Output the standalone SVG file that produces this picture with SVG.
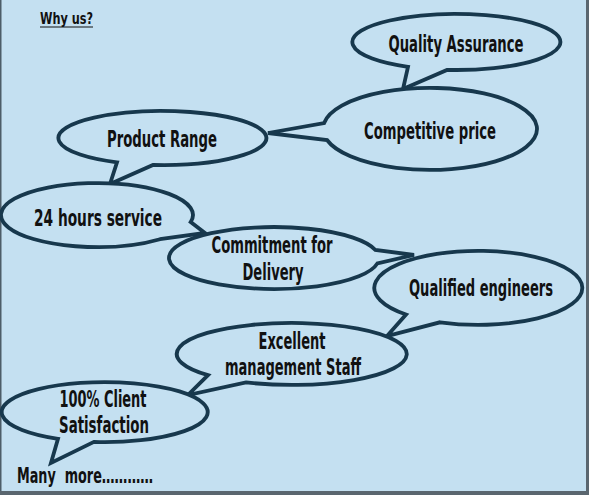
<svg xmlns="http://www.w3.org/2000/svg" width="589" height="495" viewBox="0 0 589 495">
<style>
.bg{fill:#c4e0f1}
.b{fill:#c4e0f1;stroke:#17384d;stroke-width:3.8;stroke-linejoin:miter}
.t{font-family:"Liberation Sans Narrow","DejaVu Sans Condensed","Liberation Sans",sans-serif;font-weight:bold;font-size:23px;fill:#111;text-anchor:middle}
.s{font-family:"Liberation Sans Narrow","DejaVu Sans Condensed","Liberation Sans",sans-serif;font-weight:bold;fill:#111}
</style>
<rect class="bg" x="0" y="0" width="589" height="495"/>
<rect x="0" y="0" width="1.5" height="495" fill="#4d5d68"/>
<rect x="586" y="0" width="3" height="495" fill="#5a666f"/>
<rect x="0" y="491" width="589" height="4" fill="#5a666f"/>
<g id="title">
<text class="s" transform="translate(40,24) scale(0.75,1)" font-size="16" textLength="70.7" lengthAdjust="spacingAndGlyphs">Why us?</text>
<line x1="40" y1="27" x2="93" y2="27" stroke="#111" stroke-width="1"/>
</g>
<g id="quality-assurance">
<path class="b" d="M447,69.9 A104,28 0 1 0 408,66.8 L403,89 Z"/>
<text class="t" transform="translate(456,52) scale(0.7,1)" textLength="192.9" lengthAdjust="spacingAndGlyphs">Quality Assurance</text>
</g>
<g id="competitive-price">
<path class="b" d="M327,140 A107,41 0 1 0 324.1,123 L268,133 Z"/>
<text class="t" transform="translate(430,139) scale(0.7,1)" textLength="188.6" lengthAdjust="spacingAndGlyphs">Competitive price</text>
</g>
<g id="product-range">
<path class="b" d="M153,164.9 A104,27 0 1 0 117,162.3 L110,184 Z"/>
<text class="t" transform="translate(162,147) scale(0.7,1)" textLength="157.1" lengthAdjust="spacingAndGlyphs">Product Range</text>
</g>
<g id="hours-service">
<path class="b" d="M190.7,222 A96,32 0 1 0 160,239.2 L205,233 Z"/>
<text class="t" transform="translate(98,226) scale(0.7,1)" textLength="182.9" lengthAdjust="spacingAndGlyphs">24 hours service</text>
</g>
<g id="commitment">
<path class="b" d="M375.4,250 A105,31 0 1 0 377.4,263.4 L414,255 Z"/>
<text class="t" transform="translate(272,253) scale(0.7,1)" textLength="172.9" lengthAdjust="spacingAndGlyphs">Commitment for</text>
<text class="t" transform="translate(273,280) scale(0.7,1)" textLength="87.1" lengthAdjust="spacingAndGlyphs">Delivery</text>
</g>
<g id="qualified-engineers">
<path class="b" d="M440,322.3 A104,37 0 1 0 406,314.5 L387,336 Z"/>
<text class="t" transform="translate(481,296) scale(0.7,1)" textLength="205.7" lengthAdjust="spacingAndGlyphs">Qualified engineers</text>
</g>
<g id="excellent-staff">
<path class="b" d="M246,382.4 A115,31 0 1 0 208,375.2 L188,395 Z"/>
<text class="t" transform="translate(292,349) scale(0.7,1)" textLength="95.7" lengthAdjust="spacingAndGlyphs">Excellent</text>
<text class="t" transform="translate(293,375) scale(0.7,1)" textLength="194.3" lengthAdjust="spacingAndGlyphs">management Staff</text>
</g>
<g id="client-satisfaction">
<path class="b" d="M94,441.9 A103,30 0 1 0 58,438.8 L51,463 Z"/>
<text class="t" transform="translate(103,407) scale(0.7,1)" textLength="124.3" lengthAdjust="spacingAndGlyphs">100% Client</text>
<text class="t" transform="translate(104,433) scale(0.7,1)" textLength="128.6" lengthAdjust="spacingAndGlyphs">Satisfaction</text>
</g>
<g id="many-more">
<text class="s" transform="translate(17,483) scale(0.7,1)" font-size="21" textLength="194.3" lengthAdjust="spacingAndGlyphs" xml:space="preserve">Many  more…………</text>
</g>
<g id="connectors"></g>
</svg>
